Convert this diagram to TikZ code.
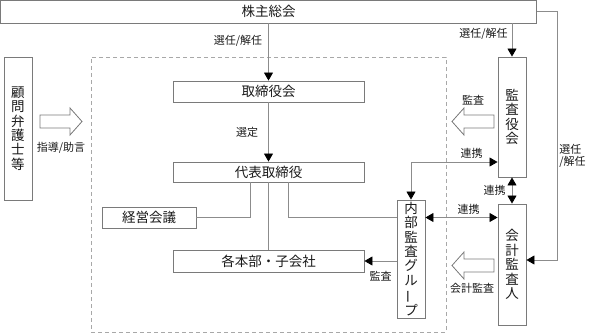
\documentclass[tikz,border=0pt]{standalone}
\usepackage{fontspec}
\newfontfamily\jpfont{Noto Sans CJK JP}
\usepackage{tikz}
\usetikzlibrary{arrows.meta,positioning,calc}
\definecolor{cLine}{HTML}{8C8C8C}
\definecolor{cBox}{HTML}{7A7A7A}
\definecolor{cDash}{HTML}{A8A8A8}
\definecolor{cText}{HTML}{1A1A1A}
\tikzset{
  blk/.style={draw=cBox, line width=0.9pt, fill=white, inner sep=0pt, text=cText,
              font=\jpfont\fontsize{13.5}{14.4}\selectfont, align=center},
  frm/.style={draw=cDash, line width=0.9pt, dash pattern=on 4pt off 3pt, inner sep=0pt},
  ln/.style={draw=cLine, line width=0.8pt},
  arr/.style={ln, -{Triangle[length=8pt,width=9pt,color=black]}},
  dblarr/.style={ln, {Triangle[length=8pt,width=9pt,color=black]}-{Triangle[length=8pt,width=9pt,color=black]}},
  lbl/.style={font=\jpfont\fontsize{11}{12.5}\selectfont, text=cText, inner sep=1pt, align=left},
  hollow/.style={draw=cBox, line width=0.8pt, fill=white},
  pics/bigarr/.style={code={
    \draw[hollow] (0,-6.5) -- (30,-6.5) -- (30,-13.5) -- (42,0) -- (30,13.5) -- (30,6.5) -- (0,6.5) -- cycle;}}
}
\newcommand{\vbar}{\rotatebox[origin=c]{90}{ー}}

\begin{document}
\begin{tikzpicture}[x=1pt, y=-1pt]
\useasboundingbox (0,0) rectangle (590,333);
% ----- frame of the company -----
\node[frm, minimum width=355pt, minimum height=275pt] (grp) at (268.5,194.5) {};
% ----- top -----
\node[blk, minimum width=536pt, minimum height=23pt] (agm) at (268.5,11.5) {株主総会};
% ----- executive line -----
\node[blk, minimum width=191pt, minimum height=21pt] (board) at (268.5,91.5) {取締役会};
\node[blk, minimum width=191pt, minimum height=20pt] (ceo) at (268.5,172) {代表取締役};
\node[blk, minimum width=94pt, minimum height=21pt] (mgmt) at (149,217.5) {経営会議};
\node[blk, minimum width=191pt, minimum height=22pt] (depts) at (268.5,261) {各本部・子会社};
\node[blk, minimum width=28pt, minimum height=118pt] (iag) at (411,259) {内\\部\\監\\査\\グ\\ル\\\vbar\\プ};
% ----- outside -----
\node[blk, minimum width=28pt, minimum height=143pt] (lawyer) at (18,128.5) {顧\\問\\弁\\護\\士\\等};
\node[blk, minimum width=28pt, minimum height=120pt] (kansa) at (512,117) {監\\査\\役\\会};
\node[blk, minimum width=28pt, minimum height=121pt] (auditor) at (512,264.5) {会\\計\\監\\査\\人};
% ----- connectors -----
\draw[arr] (agm) -- (board) node[lbl, pos=0.3, left=5pt] {選任/解任};
\draw[arr] (board) -- (ceo) node[lbl, midway, left=9pt] {選定};
\draw[ln] ([xshift=-18.5pt]ceo.south) |- (mgmt.east);
\draw[ln] (ceo) -- (depts);
\draw[ln] ([xshift=19.5pt]ceo.south) |- (iag.west |- mgmt.east);
\draw[arr] (iag.west |- depts.east) -- (depts.east) node[lbl, midway, below=9pt] {監査};
\draw[arr] (agm.south -| kansa) -- (kansa.north) node[lbl, pos=0.3, left=3pt] {選任/解任};
\draw[dblarr] ([yshift=-45pt]kansa.west) -| (iag.north) node[lbl, pos=0.15, above=2pt] {連携};
\draw[dblarr] (kansa) -- (auditor) node[lbl, midway, left=5pt] {連携};
\draw[dblarr] (iag.east |- mgmt.east) -- (auditor.west |- mgmt.east) node[lbl, pos=0.6, above=2pt] {連携};
\draw[arr] (agm.east) -- ++(20,0) |- ([yshift=4.5pt]auditor.east)
  node[lbl, pos=0.29, right=1pt] {選任\\/解任};
% ----- advice and audit arrows -----
\pic at (40,121.5) {bigarr};
\node[lbl] (advice) at (61,148) {指導/助言};
\pic[xscale=-1] at (494,121.5) {bigarr};
\node[lbl] (audit) at (473,100) {監査};
\pic[xscale=-1] at (494,265.5) {bigarr};
\node[lbl] (acct) at (472,288) {会計監査};
\end{tikzpicture}
\end{document}
